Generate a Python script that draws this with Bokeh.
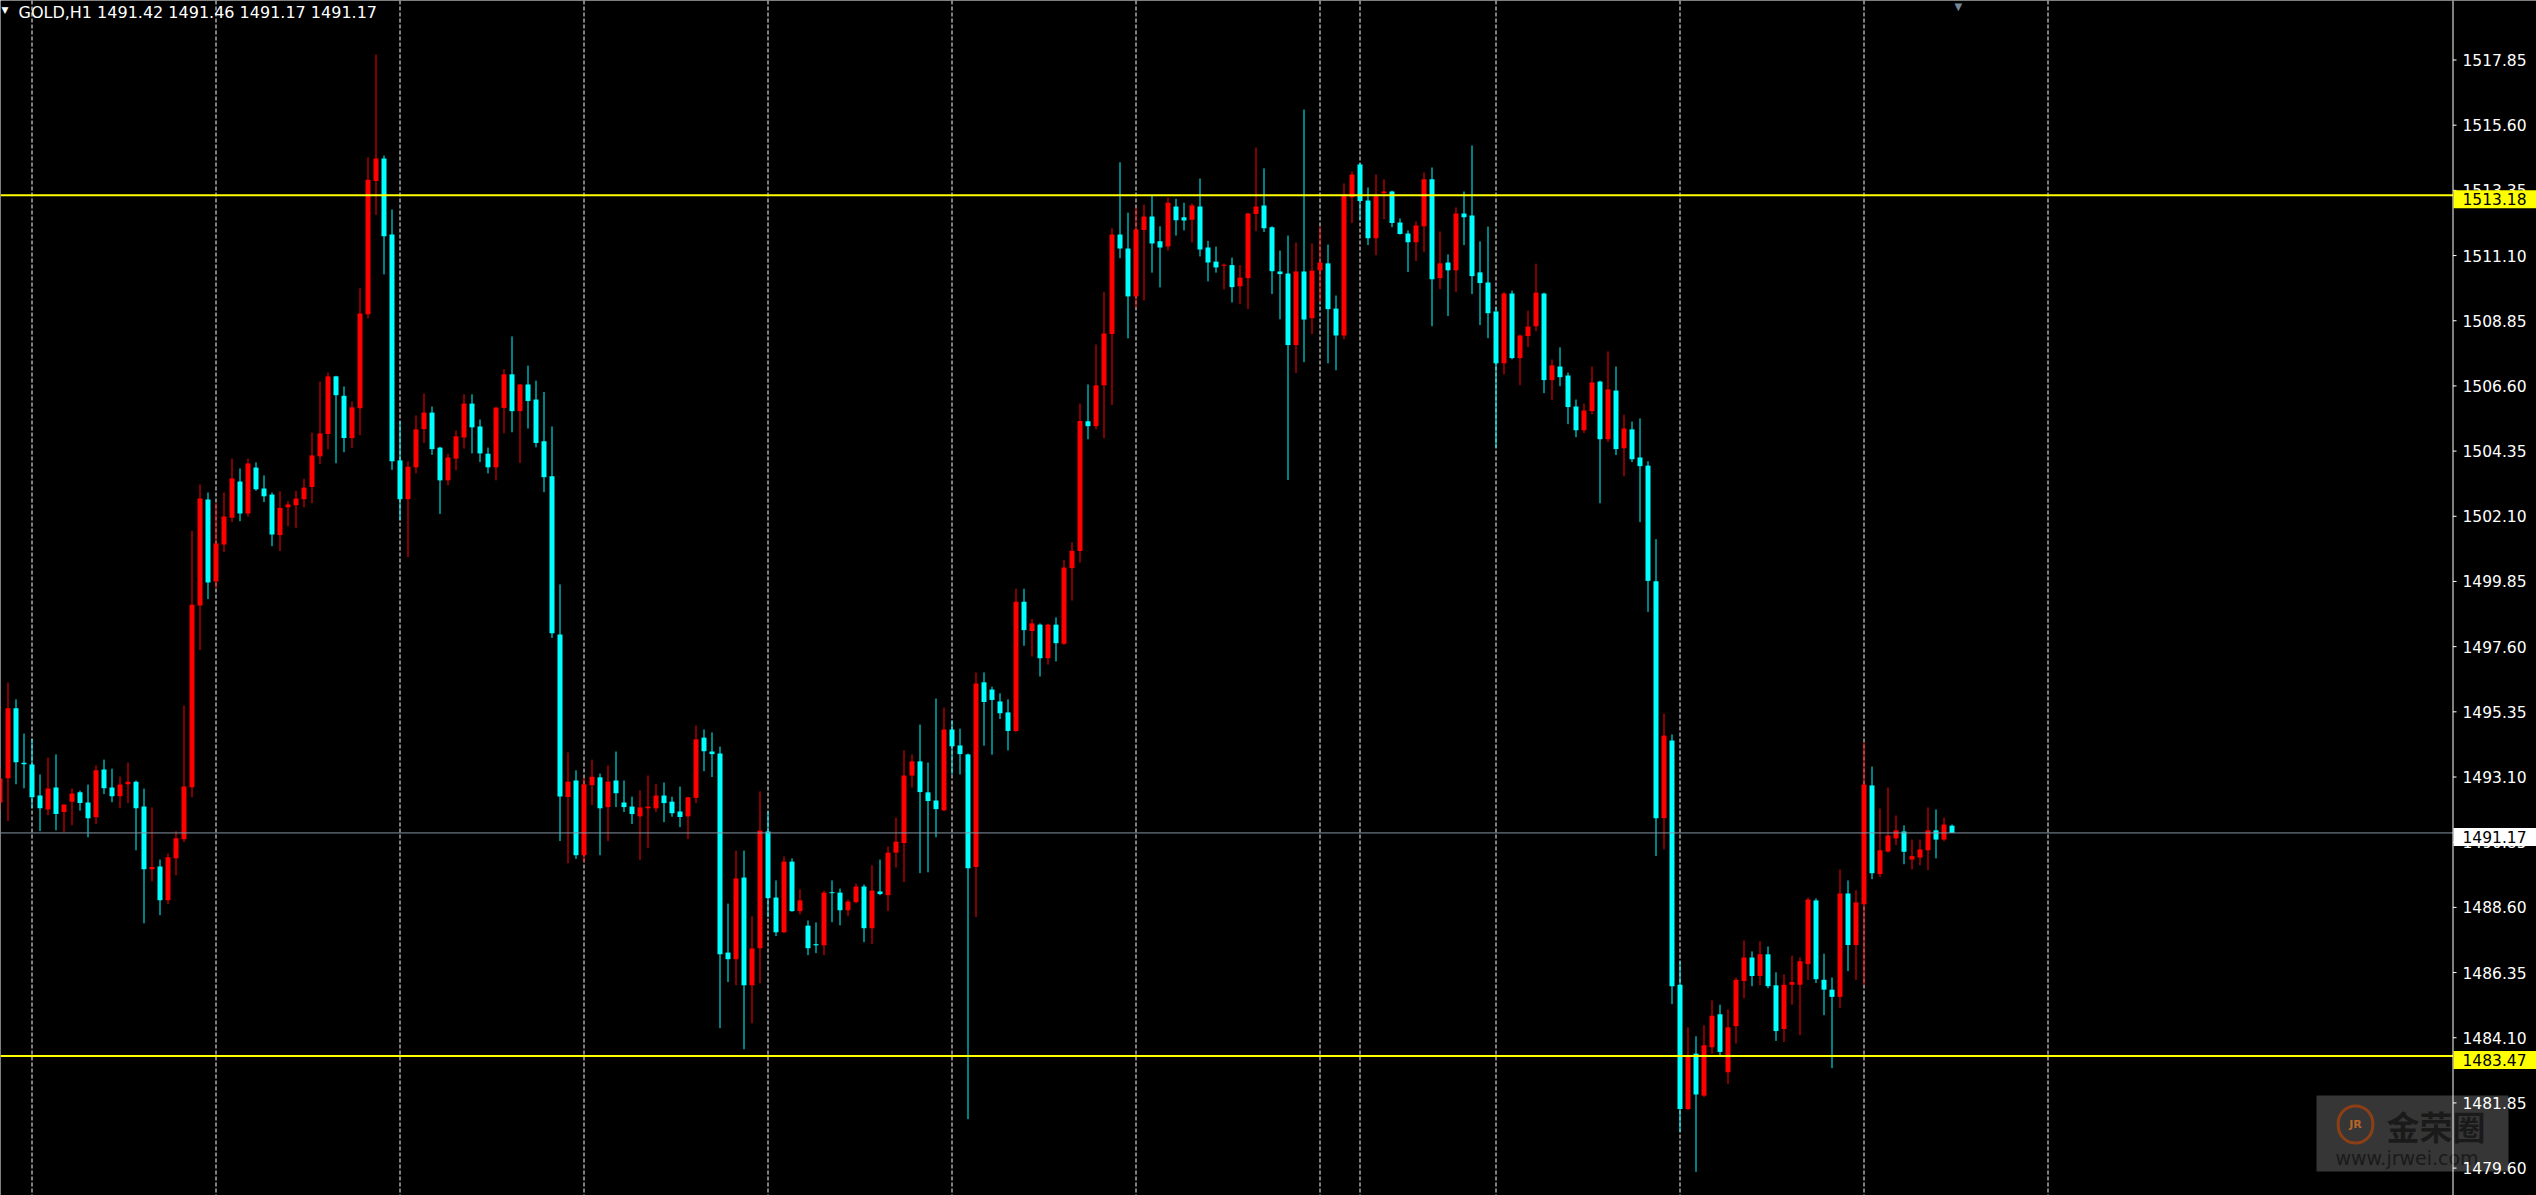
import numpy as np
from bokeh.plotting import figure
from bokeh.models import ColumnDataSource, Span, Label, BoxAnnotation, Range1d
from bokeh.core.properties import value
from bokeh.embed import file_html
from bokeh.resources import INLINE

# ---------------- data ----------------
symbol = "GOLD,H1"
first_bar = -1  # index of the first (partly hidden) bar

opens = [
    1492.22, 1493.06, 1495.47, 1493.59, 1493.53, 1492.46, 1491.98, 1492.74, 1491.89, 1492.25,
    1492.57, 1492.22, 1491.71, 1493.36, 1492.74, 1492.44, 1492.85, 1492.94, 1492.08, 1489.92,
    1490.01, 1488.85, 1490.30, 1490.95, 1492.75, 1499.02, 1502.68, 1499.85, 1501.13, 1502.05,
    1503.30, 1502.20, 1503.78, 1503.06, 1502.85, 1501.45, 1502.41, 1502.48, 1502.69, 1503.11,
    1504.17, 1504.94, 1506.93, 1506.26, 1504.80, 1505.83, 1509.07, 1513.67, 1514.45, 1511.83,
    1504.03, 1502.69, 1503.79, 1505.11, 1505.68, 1504.47, 1503.34, 1504.09, 1504.82, 1505.99,
    1505.20, 1504.26, 1503.79, 1505.84, 1507.00, 1505.73, 1506.65, 1506.13, 1504.69, 1503.48,
    1498.02, 1492.41, 1492.98, 1490.40, 1492.82, 1493.09, 1492.06, 1492.98, 1492.22, 1492.08,
    1491.74, 1492.02, 1492.02, 1492.46, 1492.25, 1491.91, 1491.74, 1492.38, 1494.46, 1493.98,
    1493.91, 1487.04, 1486.81, 1489.63, 1485.91, 1487.19, 1491.22, 1488.94, 1487.74, 1490.18,
    1488.47, 1487.97, 1487.33, 1487.29, 1489.12, 1489.11, 1488.50, 1488.78, 1489.32, 1487.88,
    1489.15, 1489.02, 1490.49, 1490.82, 1493.15, 1493.64, 1492.57, 1492.29, 1491.95, 1494.74,
    1494.19, 1493.88, 1489.99, 1496.37, 1496.12, 1495.71, 1495.33, 1494.69, 1499.15, 1498.14,
    1498.36, 1497.20, 1498.36, 1497.70, 1500.31, 1500.90, 1505.38, 1505.21, 1506.62, 1508.39,
    1511.83, 1511.34, 1509.69, 1511.98, 1512.45, 1511.59, 1511.41, 1512.79, 1512.42, 1512.34,
    1512.79, 1511.38, 1510.89, 1510.75, 1510.77, 1510.04, 1510.32, 1512.53, 1512.83, 1512.08,
    1510.55, 1510.48, 1508.01, 1510.55, 1508.94, 1510.59, 1510.83, 1509.27, 1508.34, 1513.11,
    1514.24, 1513.00, 1511.70, 1513.25, 1513.31, 1512.24, 1511.86, 1511.56, 1512.11, 1513.73,
    1510.32, 1510.86, 1510.59, 1512.55, 1512.48, 1510.52, 1510.17, 1509.17, 1507.38, 1509.79,
    1507.56, 1508.32, 1508.66, 1509.79, 1506.80, 1507.27, 1506.96, 1505.89, 1505.07, 1505.73,
    1506.75, 1504.76, 1506.44, 1504.45, 1505.10, 1504.13, 1503.85, 1499.86, 1491.68, 1494.36,
    1485.93, 1481.64, 1483.55, 1482.10, 1483.77, 1484.91, 1482.91, 1484.50, 1486.06, 1486.87,
    1486.23, 1486.98, 1485.91, 1484.40, 1485.93, 1485.93, 1486.64, 1488.84, 1486.10, 1485.76,
    1485.51, 1489.08, 1487.30, 1488.71, 1492.81, 1489.75, 1490.53, 1490.98, 1491.22, 1490.25,
    1490.32, 1490.57, 1491.26, 1490.94, 1491.42,
]
highs = [
    1493.40, 1496.36, 1495.78, 1494.60, 1494.42, 1493.19, 1493.77, 1493.88, 1492.15, 1492.70,
    1492.63, 1492.84, 1493.50, 1493.70, 1493.39, 1493.12, 1493.60, 1492.98, 1492.70, 1492.05,
    1490.25, 1490.46, 1491.23, 1495.57, 1501.60, 1503.20, 1502.92, 1502.56, 1502.92, 1504.09,
    1503.75, 1504.09, 1503.96, 1503.51, 1502.92, 1502.96, 1502.62, 1502.98, 1503.40, 1504.99,
    1506.75, 1507.06, 1506.95, 1506.58, 1506.06, 1509.97, 1514.49, 1518.04, 1514.55, 1512.69,
    1505.37, 1504.00, 1505.58, 1506.34, 1505.89, 1504.50, 1504.26, 1505.06, 1506.31, 1506.31,
    1505.44, 1504.47, 1505.88, 1507.18, 1508.31, 1506.67, 1507.30, 1506.78, 1506.39, 1505.20,
    1499.75, 1493.95, 1493.33, 1493.06, 1493.70, 1493.22, 1493.50, 1493.98, 1492.98, 1492.42,
    1492.64, 1493.15, 1492.85, 1492.91, 1492.42, 1492.77, 1492.42, 1494.88, 1494.74, 1494.64,
    1494.15, 1488.73, 1490.56, 1490.56, 1488.29, 1492.60, 1491.91, 1489.53, 1490.36, 1490.29,
    1489.22, 1488.15, 1488.08, 1489.18, 1489.53, 1489.25, 1488.87, 1489.42, 1489.39, 1490.05,
    1490.25, 1490.70, 1491.70, 1494.02, 1493.88, 1494.91, 1493.60, 1495.81, 1495.50, 1495.05,
    1494.77, 1493.91, 1496.71, 1496.71, 1496.22, 1495.99, 1495.78, 1499.60, 1499.60, 1498.55,
    1498.40, 1498.39, 1498.61, 1500.60, 1501.20, 1505.99, 1506.65, 1508.03, 1509.85, 1512.04,
    1514.32, 1512.58, 1512.75, 1512.86, 1513.16, 1512.11, 1513.10, 1513.06, 1512.92, 1512.90,
    1513.76, 1511.61, 1511.41, 1510.82, 1511.03, 1510.77, 1512.58, 1514.83, 1514.11, 1512.11,
    1511.27, 1511.79, 1511.55, 1516.14, 1511.52, 1512.10, 1511.48, 1509.72, 1513.59, 1514.00,
    1514.28, 1513.45, 1513.90, 1513.73, 1513.34, 1512.38, 1511.97, 1512.28, 1513.97, 1514.14,
    1511.93, 1511.14, 1512.76, 1513.31, 1514.90, 1511.59, 1512.10, 1509.32, 1509.84, 1509.89,
    1508.37, 1509.20, 1510.82, 1509.82, 1507.51, 1507.93, 1507.06, 1506.13, 1505.99, 1507.27,
    1506.78, 1507.79, 1507.27, 1505.61, 1505.37, 1505.48, 1504.00, 1501.31, 1495.29, 1494.57,
    1486.73, 1484.46, 1484.15, 1484.53, 1485.39, 1485.24, 1485.07, 1486.18, 1487.46, 1487.08,
    1487.43, 1487.25, 1486.36, 1486.29, 1486.93, 1486.87, 1488.94, 1488.91, 1487.00, 1486.18,
    1489.91, 1489.53, 1489.19, 1494.30, 1493.46, 1492.01, 1492.74, 1491.77, 1491.43, 1490.94,
    1490.94, 1492.05, 1491.98, 1491.70, 1491.46,
]
lows = [
    1491.95, 1491.58, 1492.85, 1492.71, 1492.02, 1491.23, 1491.78, 1491.26, 1491.20, 1491.43,
    1491.94, 1491.02, 1491.47, 1492.51, 1492.23, 1492.02, 1492.20, 1490.57, 1488.05, 1489.50,
    1488.33, 1488.71, 1489.71, 1490.85, 1492.40, 1497.48, 1499.24, 1499.62, 1500.86, 1501.90,
    1501.93, 1502.09, 1502.98, 1502.59, 1501.07, 1500.90, 1501.76, 1501.69, 1502.41, 1502.55,
    1503.90, 1504.41, 1503.93, 1504.31, 1504.45, 1504.90, 1508.93, 1512.50, 1510.45, 1503.70,
    1501.96, 1500.69, 1503.58, 1504.63, 1504.22, 1502.18, 1503.17, 1503.69, 1504.44, 1504.27,
    1503.97, 1503.58, 1503.34, 1504.96, 1505.00, 1503.94, 1505.13, 1504.48, 1502.93, 1497.90,
    1490.89, 1490.12, 1490.27, 1490.17, 1492.13, 1490.40, 1490.89, 1492.06, 1491.89, 1491.48,
    1490.23, 1490.64, 1491.89, 1491.54, 1491.73, 1491.37, 1490.96, 1492.20, 1493.30, 1493.10,
    1484.43, 1486.02, 1485.91, 1483.70, 1484.60, 1485.98, 1488.26, 1487.61, 1487.71, 1488.45,
    1488.36, 1486.95, 1487.02, 1486.95, 1488.09, 1487.98, 1488.30, 1488.74, 1487.40, 1487.33,
    1489.02, 1488.47, 1489.98, 1489.47, 1492.74, 1489.78, 1489.81, 1491.02, 1491.92, 1493.19,
    1493.19, 1481.29, 1488.26, 1494.18, 1493.87, 1495.10, 1494.02, 1494.66, 1497.63, 1497.26,
    1496.57, 1496.98, 1497.09, 1497.66, 1499.19, 1500.50, 1504.76, 1505.10, 1504.80, 1505.94,
    1511.01, 1508.24, 1509.31, 1509.55, 1510.51, 1510.00, 1511.27, 1511.79, 1511.97, 1511.55,
    1511.07, 1510.21, 1510.51, 1509.93, 1509.48, 1509.42, 1509.25, 1511.94, 1511.91, 1509.77,
    1508.90, 1503.35, 1507.04, 1507.42, 1508.39, 1509.50, 1507.38, 1507.14, 1508.21, 1512.22,
    1512.32, 1511.46, 1511.11, 1512.35, 1512.08, 1511.82, 1510.53, 1510.91, 1511.22, 1508.66,
    1509.94, 1509.01, 1509.84, 1511.46, 1509.77, 1508.70, 1508.25, 1504.47, 1507.00, 1507.52,
    1506.62, 1507.94, 1508.49, 1506.35, 1506.11, 1506.59, 1505.28, 1504.83, 1504.97, 1505.62,
    1502.55, 1504.66, 1504.21, 1503.48, 1503.97, 1501.90, 1498.80, 1490.37, 1490.60, 1485.26,
    1480.85, 1481.60, 1479.47, 1482.05, 1483.55, 1483.48, 1482.50, 1483.90, 1485.47, 1485.88,
    1485.91, 1485.81, 1483.99, 1483.95, 1485.24, 1484.19, 1486.10, 1485.99, 1484.88, 1483.05,
    1485.12, 1486.40, 1486.09, 1485.93, 1489.57, 1489.64, 1490.49, 1490.75, 1490.09, 1489.91,
    1490.05, 1489.89, 1490.29, 1490.88, 1491.17,
]
closes = [
    1493.05, 1495.47, 1493.61, 1493.54, 1492.40, 1492.02, 1492.70, 1491.82, 1492.15, 1492.53,
    1492.20, 1491.68, 1493.33, 1492.71, 1492.44, 1492.84, 1492.94, 1492.02, 1489.92, 1489.99,
    1488.85, 1490.33, 1490.99, 1492.77, 1499.05, 1502.71, 1499.81, 1501.16, 1502.09, 1503.40,
    1502.20, 1503.92, 1503.03, 1502.79, 1501.47, 1502.39, 1502.51, 1502.71, 1503.09, 1504.20,
    1504.96, 1506.93, 1506.28, 1504.80, 1505.86, 1509.10, 1513.72, 1514.45, 1511.77, 1504.00,
    1502.69, 1503.81, 1505.10, 1505.68, 1504.42, 1503.34, 1504.13, 1504.86, 1505.99, 1505.17,
    1504.27, 1503.79, 1505.85, 1507.00, 1505.73, 1506.65, 1506.08, 1504.63, 1503.45, 1498.06,
    1492.43, 1492.94, 1490.40, 1492.85, 1493.11, 1492.02, 1492.94, 1492.54, 1492.06, 1491.82,
    1492.05, 1492.08, 1492.46, 1492.20, 1491.85, 1491.72, 1492.40, 1494.40, 1493.99, 1493.89,
    1486.98, 1486.81, 1489.60, 1485.91, 1487.18, 1491.25, 1488.92, 1487.74, 1490.18, 1488.47,
    1488.84, 1487.19, 1487.29, 1489.11, 1489.09, 1488.50, 1488.80, 1489.32, 1487.88, 1489.18,
    1489.06, 1490.49, 1490.87, 1493.15, 1493.64, 1492.58, 1492.27, 1491.99, 1494.74, 1494.16,
    1493.89, 1489.95, 1496.33, 1495.69, 1495.76, 1495.30, 1494.69, 1499.15, 1498.17, 1498.40,
    1497.20, 1498.36, 1497.72, 1500.33, 1500.91, 1505.39, 1505.21, 1506.62, 1508.41, 1511.83,
    1511.34, 1509.69, 1512.00, 1512.45, 1511.52, 1511.38, 1512.92, 1512.32, 1512.31, 1512.83,
    1511.31, 1510.86, 1510.69, 1510.77, 1510.01, 1510.34, 1512.55, 1512.79, 1512.04, 1510.56,
    1510.46, 1508.01, 1510.55, 1508.89, 1510.58, 1510.86, 1509.25, 1508.34, 1513.21, 1513.90,
    1512.98, 1511.70, 1513.15, 1513.31, 1512.22, 1511.84, 1511.56, 1512.14, 1513.73, 1510.28,
    1510.83, 1510.59, 1512.55, 1512.42, 1510.39, 1510.15, 1509.11, 1507.38, 1509.79, 1507.56,
    1508.34, 1508.65, 1509.82, 1506.80, 1507.31, 1506.90, 1505.87, 1505.07, 1505.75, 1506.72,
    1504.76, 1506.48, 1504.42, 1505.13, 1504.07, 1503.83, 1499.87, 1491.68, 1494.53, 1485.88,
    1481.64, 1483.48, 1482.14, 1483.84, 1484.86, 1483.61, 1484.46, 1486.10, 1486.87, 1486.23,
    1486.98, 1485.88, 1484.33, 1485.93, 1486.02, 1486.74, 1488.87, 1486.12, 1485.76, 1485.51,
    1489.08, 1487.30, 1488.77, 1492.84, 1489.78, 1490.57, 1491.08, 1491.26, 1490.52, 1490.37,
    1490.60, 1491.26, 1490.94, 1491.46, 1491.17,
]

# right price scale labels
price_ticks = [1517.85, 1515.60, 1513.35, 1511.10, 1508.85, 1506.60, 1504.35, 1502.10, 1499.85,
               1497.60, 1495.35, 1493.10, 1490.85, 1488.60, 1486.35, 1484.10, 1481.85, 1479.60]
# horizontal level lines and the current bid
level_lines = [1513.18, 1483.47]
bid_price = 1491.17
# bars on which a new trading day starts (dotted vertical grid)
day_start_bars = [3, 26, 49, 72, 95, 118, 141, 164, 169, 186, 209, 232, 255]

# ---------------- layout constants ----------------
W, H = 2536, 1195
PX_PER_BAR = 8.0
FIRST_BAR_PX = 7.5          # pixel centre of bar 0
PX_PER_PRICE = 28.97        # vertical pixels per 1.00 of price
TOP_PRICE = 1519.904        # price at the top edge
AXIS_PX = 2452.5            # price-scale separator line
LABEL_PX = 2462             # left edge of the price labels
BOX_PX = 2453               # left edge of the price boxes
BULL = "#ff0000"
BEAR = "#00ffff"
FONT = "DejaVu Sans"
FSIZE = "15.5px"


def px_to_x(px):
    return (px - FIRST_BAR_PX) / PX_PER_BAR


n = len(opens)
assert len(highs) == n and len(lows) == n and len(closes) == n
idx = np.arange(n) + first_bar
o = np.array(opens); h = np.array(highs); l = np.array(lows); c = np.array(closes)
body_top = np.maximum(o, c)
body_bot = np.minimum(o, c)
min_body = 1.0 / PX_PER_PRICE
body_top = np.where(body_top - body_bot < min_body, body_bot + min_body, body_top)
colors = np.where(c >= o, BULL, BEAR)

src = ColumnDataSource(dict(x=idx, top=body_top, bottom=body_bot, high=h, low=l, color=colors))

x_lo, x_hi = px_to_x(0), px_to_x(W)
y_hi = TOP_PRICE
y_lo = TOP_PRICE - H / PX_PER_PRICE
axis_x = px_to_x(AXIS_PX)

p = figure(frame_width=W, frame_height=H,
           x_range=Range1d(x_lo, x_hi), y_range=Range1d(y_lo, y_hi),
           output_backend="svg", toolbar_location=None,
           x_axis_location=None, y_axis_location=None,
           background_fill_color="black", border_fill_color="black",
           outline_line_color=None, min_border=0)
p.grid.visible = False

# dotted day separators (behind the candles)
for b in day_start_bars:
    p.add_layout(Span(location=b, dimension="height", line_color="#ffffff",
                      line_dash="4 2", line_width=1, level="underlay"))

# watermark (behind everything)
p.add_layout(BoxAnnotation(left=2316, right=2508, bottom=H - 1171, top=H - 1095,
                           left_units="screen", right_units="screen",
                           top_units="screen", bottom_units="screen",
                           fill_color="#363636", fill_alpha=1.0, line_color=None,
                           level="underlay"))
p.add_layout(Label(x=2355, y=H - 1124, x_units="screen", y_units="screen", text="JR",
                   text_align="center", text_baseline="middle", text_color="#b8652a",
                   text_font=FONT, text_font_size="11px", text_font_style="bold",
                   border_line_color="#8c3f14", border_line_width=3, border_radius=19,
                   padding=(11, 11, 12, 12), level="underlay"))
p.add_layout(Label(x=2386, y=H - 1125, x_units="screen", y_units="screen", text="金荣圈",
                   text_align="left", text_baseline="middle", text_color="#1a1a1a",
                   text_font="Noto Sans CJK SC", text_font_size="33px", text_font_style="bold",
                   level="underlay"))
p.add_layout(Label(x=2335, y=H - 1157, x_units="screen", y_units="screen",
                   text="www.jrwei.com", text_align="left", text_baseline="middle",
                   text_color="#1a1a1a", text_font=FONT, text_font_size="19px", level="underlay"))

# candles
p.segment(x0="x", y0="low", x1="x", y1="high", line_color="color", line_width=1, source=src)
p.vbar(x="x", width=5.0 / PX_PER_BAR, top="top", bottom="bottom",
       fill_color="color", line_color=None, source=src)

# level lines and bid line, drawn up to the price scale
p.segment(x0=[x_lo] * len(level_lines), x1=[axis_x] * len(level_lines),
          y0=level_lines, y1=level_lines, line_color="#ffff00", line_width=2)
p.segment(x0=[x_lo], x1=[axis_x], y0=[bid_price], y1=[bid_price],
          line_color="#8593a3", line_width=1)

# price scale: separator line, ticks and labels
p.add_layout(Span(location=axis_x, dimension="height", line_color="white", line_width=1))
nt = len(price_ticks)
p.segment(x0=[axis_x] * nt, x1=[px_to_x(AXIS_PX + 3.5)] * nt, y0=price_ticks, y1=price_ticks,
          line_color="white", line_width=1)
p.text(x=[px_to_x(LABEL_PX)] * nt, y=price_ticks, text=[f"{t:.2f}" for t in price_ticks],
       text_align="left", text_baseline="middle", text_color="white",
       text_font=value(FONT), text_font_size=value(FSIZE))

# price boxes on the scale (padding = left, right, top, bottom)
for price, bg in [(level_lines[0], "#ffff00"), (level_lines[1], "#ffff00"), (bid_price, "#ffffff")]:
    p.add_layout(Label(x=BOX_PX, y=price, x_units="screen", y_units="data",
                       text=f"{price:.2f}", text_align="left", text_baseline="middle",
                       y_offset=-4, text_color="black", text_font=FONT, text_font_size=FSIZE,
                       background_fill_color=bg, padding=(LABEL_PX - BOX_PX, 14, 3, 3)))

# header text
last = n - 1
title = f"{symbol}  {opens[last]:.2f} {highs[last]:.2f} {lows[last]:.2f} {closes[last]:.2f}"
p.add_layout(Label(x=18, y=H - 2, x_units="screen", y_units="screen", text=title,
                   text_align="left", text_baseline="top", text_color="white",
                   text_font=FONT, text_font_size="16px"))
p.add_layout(Label(x=1, y=H - 9, x_units="screen", y_units="screen", text="▼",
                   text_align="left", text_baseline="middle", text_color="white",
                   text_font=FONT, text_font_size="9px"))
# chart-shift marker at the top
shift_px = FIRST_BAR_PX + PX_PER_BAR * (idx[-1] + 0.8)
p.add_layout(Label(x=shift_px, y=H, x_units="screen", y_units="screen", text="▼",
                   text_align="center", text_baseline="top", text_color="#778899",
                   text_font=FONT, text_font_size="10px"))

open("out.html", "w").write(file_html(p, INLINE))
